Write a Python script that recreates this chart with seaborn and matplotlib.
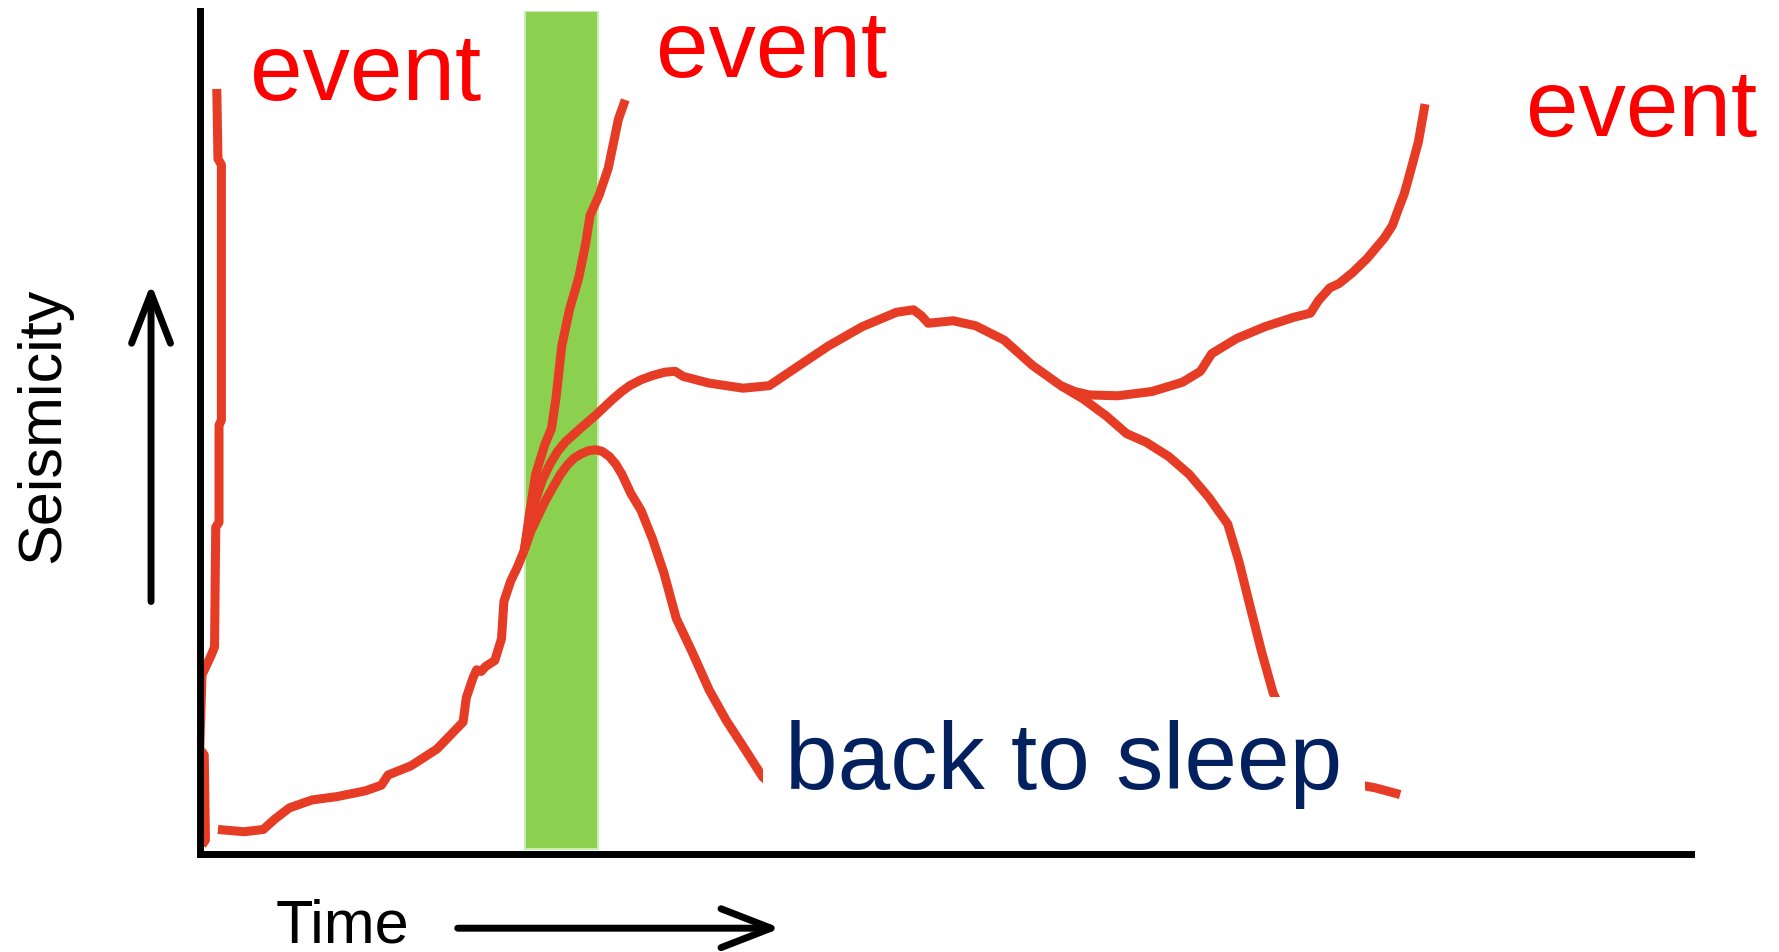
import numpy as np
import pandas as pd
import matplotlib.pyplot as plt
import seaborn as sns

# schematic units: time 0-100 (x), seismicity 0-100 (y)
# immediate event at the very start
spike_t = [0.15, 0.38, 0.30, 0.00, 0.15, 0.76, 0.99, 1.07, 1.29, 1.29, 1.45, 1.45, 1.22, 1.14]
spike_s = [1.1, 1.7, 11.8, 12.5, 21.3, 23.6, 24.6, 38.8, 39.4, 50.9, 51.5, 81.8, 82.5, 90.8]

# slow build-up of background seismicity
base_t = [1.22, 2.97, 4.26, 5.02, 6.01, 7.53, 9.21, 11.11, 12.18, 12.63, 14.16, 15.91,
          17.66, 17.88, 18.34, 18.57, 18.87, 19.18, 19.79, 20.24, 20.40, 20.85, 21.31, 21.77]
base_s = [2.96, 2.69, 2.96, 4.17, 5.52, 6.46, 6.86, 7.54, 8.21, 9.42, 10.5, 12.5,
          15.7, 18.6, 21.0, 21.9, 21.7, 22.3, 23.0, 25.6, 30.0, 32.4, 34.1, 36.1]

# branch that goes straight to an event
fast_t = [21.77, 22.15, 22.53, 23.14, 23.59, 23.90, 24.28, 24.81, 25.42, 25.88, 26.18,
          26.79, 27.40, 28.08, 28.54]
fast_s = [36.1, 40.8, 45.1, 48.6, 50.5, 54.2, 60.3, 64.7, 68.4, 72.4, 75.8,
          78.2, 81.4, 87.2, 89.5]

# long plateau that finally ends in an event
long_t = [21.77, 22.10, 22.53, 23.00, 23.52, 24.00, 24.51, 25.57, 26.56, 27.70, 28.30,
          28.84, 29.60, 30.37, 31.20, 31.89, 32.42, 34.17, 36.45, 38.20, 39.88, 42.16,
          44.44, 46.73, 47.87, 48.40, 48.86, 50.53, 52.05, 53.96, 55.86, 57.76, 58.70,
          59.67, 61.57, 63.85, 65.91, 67.12, 67.88, 69.56, 71.46, 73.36, 74.50, 75.04,
          75.80, 76.41, 77.32, 78.31, 79.45, 80.00, 80.37, 80.80, 81.13, 81.74, 82.19]
long_s = [36.1, 39.5, 42.1, 44.5, 46.4, 47.8, 48.9, 50.6, 52.1, 54.0, 54.9,
          55.6, 56.3, 56.8, 57.2, 57.3, 56.7, 55.9, 55.3, 55.6, 57.6, 60.3,
          62.6, 64.3, 64.6, 63.9, 63.0, 63.3, 62.7, 61.0, 58.0, 55.6, 54.9,
          54.5, 54.4, 54.9, 56.0, 57.3, 59.4, 61.2, 62.6, 63.7, 64.2, 65.7,
          67.2, 67.7, 69.0, 70.7, 73.1, 74.6, 76.4, 78.4, 80.5, 84.5, 89.0]

# short unrest that dies away
short_t = [21.77, 22.20, 22.68, 23.20, 23.74, 24.20, 24.66, 25.10, 25.57, 26.10, 26.56,
           27.00, 27.47, 27.90, 28.31, 28.92, 29.60, 30.37, 31.13, 31.96, 33.03, 34.17,
           35.31, 36.45, 37.75, 39.12, 41.40]
short_s = [36.1, 38.3, 40.1, 42.0, 43.7, 45.1, 46.2, 47.0, 47.5, 47.9, 48.0,
           47.8, 47.2, 46.3, 45.1, 42.8, 40.8, 37.4, 33.4, 28.0, 24.0, 19.5,
           15.9, 12.8, 9.2, 7.1, 5.1]

# long unrest that dies away
late_t = [57.76, 59.28, 60.81, 62.18, 63.47, 64.99, 66.36, 67.66, 68.95, 69.71, 70.47,
          71.23, 71.99, 73.36, 75.65, 77.93, 78.84, 80.52]
late_s = [55.6, 54.0, 52.0, 49.9, 48.9, 47.2, 45.1, 42.4, 39.2, 34.7, 29.3,
          24.0, 19.2, 13.9, 9.8, 8.2, 7.9, 7.1]

window = [21.8, 26.7]  # green forecast window

curves = [(spike_t, spike_s), (base_t, base_s), (fast_t, fast_s),
          (long_t, long_s), (short_t, short_s), (late_t, late_s)]

sns.set_style("white")
plt.rcParams["font.family"] = ["Liberation Sans", "DejaVu Sans"]

RED = "#E63B24"

fig = plt.figure(figsize=(17.79, 9.52), dpi=100)
ax = fig.add_axes([0.1123, 0.1025, 0.838, 0.8856])

ax.axvspan(window[0], window[1], ymin=0.007, ymax=1.0, facecolor="#8BD04E",
           edgecolor="#C9ECB2", lw=1.5, zorder=1)

for t, s in curves:
    df = pd.DataFrame({"t": t, "s": s})
    sns.lineplot(data=df, x="t", y="s", sort=False, estimator=None, color=RED,
                 linewidth=6.5, solid_joinstyle="round", solid_capstyle="butt",
                 ax=ax, zorder=2)

ax.set_xlim(0, 100)
ax.set_ylim(0, 100)
ax.set_xticks([])
ax.set_yticks([])
ax.set_xlabel("")
ax.set_ylabel("")
for side in ["top", "right"]:
    ax.spines[side].set_visible(False)
for side in ["left", "bottom"]:
    ax.spines[side].set_color("black")
    ax.spines[side].set_linewidth(5.0)

# labels
ev_kw = dict(color="#FF0000", fontsize=68, ha="left", va="baseline", clip_on=False)
ax.text(3.35, 89.5, "event", **ev_kw)
ax.text(30.6, 92.2, "event", **ev_kw)
ax.text(88.97, 85.2, "event", **ev_kw)
ax.text(39.27, 7.8, "back to sleep", color="#03215F", fontsize=68, ha="left",
        va="baseline", zorder=5,
        bbox=dict(boxstyle="square,pad=0.24", facecolor="white", edgecolor="none"))

ax.text(-10.5, 50.9, "Seismicity", rotation=90, fontsize=44, color="black",
        ha="center", va="center", clip_on=False)
ax.text(5.1, -10.4, "Time", fontsize=44, color="black", ha="left", va="baseline",
        clip_on=False)

arrow = dict(arrowstyle="->,head_length=0.9,head_width=0.35", lw=5.0, color="black",
             mutation_scale=40, shrinkA=0, shrinkB=0)
ax.annotate("", xy=(-3.27, 67.7), xytext=(-3.27, 30.0), arrowprops=arrow,
            annotation_clip=False)
ax.annotate("", xy=(38.96, -8.75), xytext=(17.3, -8.75), arrowprops=arrow,
            annotation_clip=False)

fig.savefig("out.png", dpi=100)
